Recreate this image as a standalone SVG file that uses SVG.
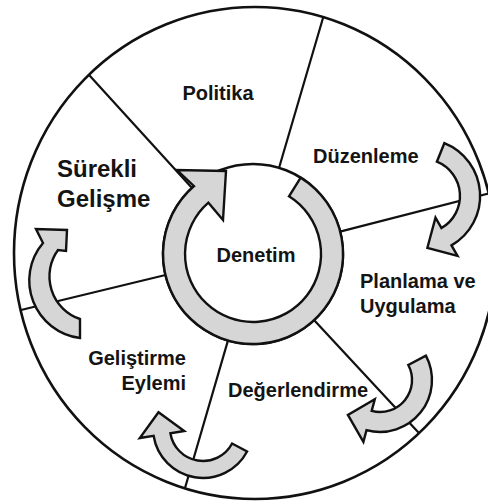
<svg xmlns="http://www.w3.org/2000/svg" width="488" height="503" viewBox="0 0 488 503">
  <style>
    .line { stroke: #111; stroke-width: 2.2; fill: none; stroke-linecap: round; }
    .rim { stroke: #111; stroke-width: 2.6; fill: #fff; }
    .arrow { fill: #d6d6d6; stroke: #111; stroke-width: 2.4; stroke-linejoin: miter; }
    .lbl { font-family: "Liberation Sans", Arial, Helvetica, sans-serif; font-weight: bold; font-size: 20px; fill: #141414; }
    .big { font-size: 24px; }
  </style>
  <rect x="0" y="0" width="488" height="503" fill="#fff"/>
  <g id="frame">
    <ellipse cx="255" cy="253" rx="241" ry="246" class="rim"/>
  </g>
  <g id="connectors">
    <line class="line" x1="192" y1="188" x2="90" y2="76"/>
    <line class="line" x1="279" y1="168" x2="323" y2="18"/>
    <line class="line" x1="340" y1="231.6" x2="492" y2="192.5"/>
    <line class="line" x1="314" y1="320" x2="418" y2="432"/>
    <line class="line" x1="228" y1="340.4" x2="185" y2="488"/>
    <line class="line" x1="165.5" y1="275" x2="21" y2="310"/>
  </g>
  <g id="denetim">
    <circle cx="253" cy="254" r="90" class="rim"/>
    <path class="arrow" d="M 300.7,177.7 A 90 90 0 1 1 194.0,186.1 L 177,170 L 226,171 L 223,220 L 208.4,202.7 A 68 68 0 1 0 289.0,196.3 Z"/>
    <text class="lbl" x="256" y="262" text-anchor="middle">Denetim</text>
  </g>
  <g id="arrow-duzenleme">
    <path class="arrow" d="M 444.4,143.1 A 57 57 0 0 1 451.5,245.4 L 457.5,255.8 L 427.4,247.8 L 435.5,217.7 L 441.5,228.0 A 37 37 0 0 0 436.9,161.7 Z"/>
  </g>
  <g id="arrow-planlama">
    <path class="arrow" d="M 425.9,355.6 A 52 52 0 0 1 366.5,430.2 L 363.4,441.8 L 347.9,414.9 L 374.8,399.3 L 371.7,410.9 A 32 32 0 0 0 408.3,365.0 Z"/>
  </g>
  <g id="arrow-degerlendirme">
    <path class="arrow" d="M 247.1,451.5 A 50 50 0 0 1 153.6,435.8 L 139.8,438.0 L 158.5,412.3 L 184.2,431.0 L 170.4,433.2 A 33 33 0 0 0 232.1,443.5 Z"/>
  </g>
  <g id="arrow-gelistirme">
    <path class="arrow" d="M 80,338 A 58 58 0 0 1 43,243 L 36,229 L 67,230 L 66,251 L 58,250 A 45 45 0 0 0 80,319 Z"/>
  </g>
  <g id="politika">
    <text class="lbl" x="218" y="100" text-anchor="middle">Politika</text>
  </g>
  <g id="duzenleme">
    <text class="lbl" x="313" y="163">Düzenleme</text>
  </g>
  <g id="planlama">
    <text class="lbl" x="360" y="288">Planlama ve</text>
    <text class="lbl" x="360" y="313">Uygulama</text>
  </g>
  <g id="degerlendirme">
    <text class="lbl" x="228" y="397">Değerlendirme</text>
  </g>
  <g id="gelistirme">
    <text class="lbl" x="186" y="365" text-anchor="end">Geliştirme</text>
    <text class="lbl" x="186" y="390" text-anchor="end">Eylemi</text>
  </g>
  <g id="surekli">
    <text class="lbl big" x="57" y="177">Sürekli</text>
    <text class="lbl big" x="57" y="207">Gelişme</text>
  </g>
</svg>
